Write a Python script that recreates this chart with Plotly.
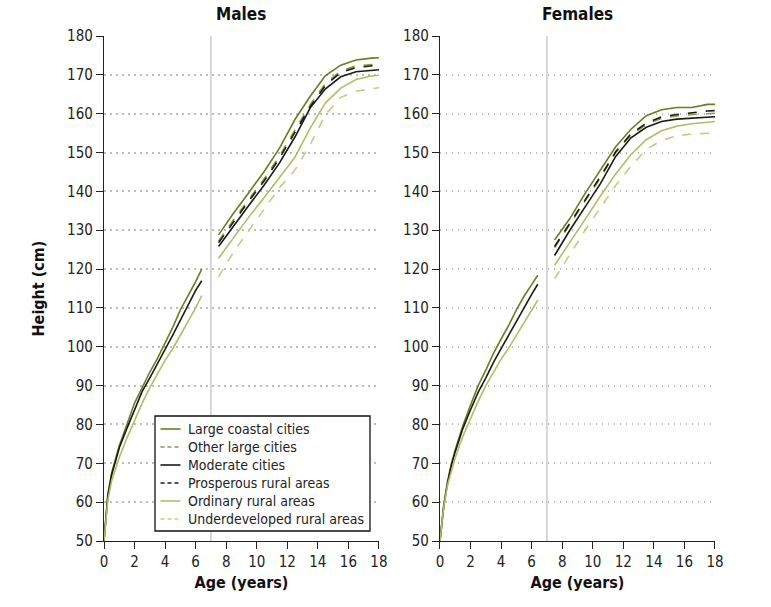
import plotly.graph_objects as go

# ---------------- data ----------------
age_young = [0, 0.25, 0.5, 0.75, 1, 1.5, 2, 2.5, 3, 3.5, 4, 4.5, 5, 5.5, 6, 6.4]
age_old = [7.5, 8.5, 9.5, 10.5, 11.5, 12.5, 13.5, 14.5, 15.5, 16.5, 17.5, 18]

series_names = ["Large coastal cities", "Other large cities", "Moderate cities",
                "Prosperous rural areas", "Ordinary rural areas", "Underdeveloped rural areas"]

# Males, ages 0-6.4 (only three groups measured)
m_young_lc = [50, 62, 67.5, 71, 74.5, 80, 85.5, 89.5, 93.5, 97, 101, 105, 109.5, 113, 116.8, 120]
m_young_mc = [50, 61.5, 67, 70.5, 74, 79, 84, 88.5, 92, 95.5, 99.3, 103, 106.8, 110.5, 114.5, 117]
m_young_or = [50, 60.5, 65.5, 68.5, 71.5, 76.5, 81, 85.5, 89.5, 93, 96.5, 99.5, 103, 106.5, 110, 113.2]

# Males, ages 7.5-18
m_old_lc = [128.8, 134.5, 139.8, 145.2, 151.2, 158.5, 164.5, 169.8, 172.5, 173.8, 174.3, 174.4]
m_old_ol = [127.2, 132.8, 138.0, 143.3, 149.2, 155.8, 162.3, 167.8, 171.0, 172.3, 172.7, 172.8]
m_old_pr = [126.8, 132.3, 137.6, 142.8, 148.6, 155.2, 161.8, 167.3, 170.6, 171.9, 172.4, 172.5]
m_old_mc = [125.8, 131.3, 136.5, 141.7, 147.4, 154.0, 161.5, 166.4, 169.5, 170.8, 171.2, 171.3]
m_old_or = [122.8, 128.3, 133.5, 138.5, 143.8, 148.8, 156.3, 162.8, 166.6, 168.8, 169.7, 169.9]
m_old_ud = [118.0, 124.5, 130.0, 135.5, 141.0, 145.5, 152.0, 159.8, 164.2, 165.8, 166.5, 166.7]

# Females, ages 0-6.4
f_young_lc = [50, 59.5, 65.5, 70, 73.5, 79.7, 85, 90, 94, 98.3, 102, 105.5, 109.5, 113, 116, 118.4]
f_young_mc = [50, 59, 65, 69.5, 73, 79, 83.8, 88.3, 92, 96, 99.5, 103, 106.5, 110.3, 113.5, 116.1]
f_young_or = [50, 59, 64.5, 68, 71.5, 77, 81.5, 86, 90, 93.5, 96.8, 99.7, 103, 106.3, 109.7, 112]

# Females, ages 7.5-18
f_old_lc = [127.5, 133.0, 139.5, 145.5, 151.5, 156.0, 159.5, 161.0, 161.6, 161.6, 162.4, 162.4]
f_old_ol = [125.5, 131.5, 137.5, 143.5, 150.0, 154.5, 157.2, 158.8, 159.4, 159.8, 160.0, 160.1]
f_old_pr = [125.8, 131.8, 137.8, 143.8, 150.2, 154.8, 157.5, 159.2, 159.8, 160.3, 160.7, 160.8]
f_old_mc = [123.5, 130.0, 136.0, 142.0, 149.0, 153.8, 156.5, 158.0, 158.6, 158.9, 159.2, 159.2]
f_old_or = [121.0, 126.8, 132.8, 138.8, 144.5, 149.5, 153.3, 155.6, 156.8, 157.4, 157.9, 158.0]
f_old_ud = [117.5, 123.8, 130.0, 135.8, 141.5, 146.5, 150.8, 153.1, 154.3, 154.8, 155.0, 155.0]

y_ticks = list(range(50, 181, 10))
x_ticks = list(range(0, 19, 2))

# ---------------- styles ----------------
styles = {
    "Large coastal cities": dict(color="#6f7a22", dash="solid"),
    "Other large cities": dict(color="#8e9a3c", dash="dash"),
    "Moderate cities": dict(color="#1a1a1a", dash="solid"),
    "Prosperous rural areas": dict(color="#1a1a1a", dash="dash"),
    "Ordinary rural areas": dict(color="#b4bc68", dash="solid"),
    "Underdeveloped rural areas": dict(color="#c6cb82", dash="dash"),
}

FONT = "DejaVu Sans Condensed, Liberation Sans Narrow, sans-serif"

fig = go.Figure()

def add(x, y, name, xa, ya):
    st = styles[name]
    fig.add_trace(go.Scatter(
        x=x, y=y, mode="lines", name=name, showlegend=False,
        line=dict(color=st["color"], dash=st["dash"], width=1.6),
        xaxis=xa, yaxis=ya, hoverinfo="skip"))

male_old = [m_old_lc, m_old_ol, m_old_mc, m_old_pr, m_old_or, m_old_ud]
female_old = [f_old_lc, f_old_ol, f_old_mc, f_old_pr, f_old_or, f_old_ud]

for name, ys in zip(series_names, male_old):
    add(age_old, ys, name, "x", "y")
for name, ys in zip(series_names, female_old):
    add(age_old, ys, name, "x2", "y2")

for name, ys in [("Large coastal cities", m_young_lc), ("Moderate cities", m_young_mc),
                 ("Ordinary rural areas", m_young_or)]:
    add(age_young, ys, name, "x", "y")
for name, ys in [("Large coastal cities", f_young_lc), ("Moderate cities", f_young_mc),
                 ("Ordinary rural areas", f_young_or)]:
    add(age_young, ys, name, "x2", "y2")

xcommon = dict(range=[0, 18], tickvals=x_ticks, showgrid=False, showline=True,
               linecolor="#222", linewidth=1.3, ticks="outside", ticklen=7,
               tickcolor="#222", tickwidth=1.3, zeroline=False,
               tickfont=dict(family=FONT, size=15, color="#222"),
               title=dict(text="<b>Age (years)</b>", font=dict(family=FONT, size=16, color="#111"),
                          standoff=6))
ycommon = dict(range=[50, 180], tickvals=y_ticks, showgrid=True, gridcolor="#bdbdbd",
               griddash="1.5px,4.5px", gridwidth=1.5, showline=True, linecolor="#222",
               linewidth=1.3, ticks="outside", ticklen=7, tickcolor="#222", tickwidth=1.3,
               zeroline=False, tickfont=dict(family=FONT, size=15, color="#222"))

# ---------------- manual legend (paper coords) ----------------
PX0, PW, PY0, PH = 104, 611, 541, 505  # plot area in pixels
def px(xp):
    return (xp - PX0) / PW
def py(yp):
    return (PY0 - yp) / PH

shapes = [
    dict(type="line", xref="x", yref="y domain", x0=7, x1=7, y0=0, y1=1,
         line=dict(color="#cccccc", width=1.5), layer="below"),
    dict(type="line", xref="x2", yref="y2 domain", x0=7, x1=7, y0=0, y1=1,
         line=dict(color="#cccccc", width=1.5), layer="below"),
    dict(type="rect", xref="paper", yref="paper", x0=px(155), x1=px(370),
         y0=py(531), y1=py(416), fillcolor="white",
         line=dict(color="#111", width=1.3), layer="above"),
]
annotations = [
    dict(text="<b>Males</b>", xref="x domain", yref="paper", x=0.5, y=1.0,
         yshift=10, xanchor="center", yanchor="bottom", showarrow=False,
         font=dict(family=FONT, size=17, color="#111")),
    dict(text="<b>Females</b>", xref="x2 domain", yref="paper", x=0.5, y=1.0,
         yshift=10, xanchor="center", yanchor="bottom", showarrow=False,
         font=dict(family=FONT, size=17, color="#111")),
]
for i, name in enumerate(series_names):
    yrow = 429 + 18 * i
    st = styles[name]
    shapes.append(dict(type="line", xref="paper", yref="paper",
                       x0=px(160.5), x1=px(180.5), y0=py(yrow), y1=py(yrow),
                       line=dict(color=st["color"], width=1.6,
                                 dash="4px,3px" if st["dash"] == "dash" else "solid"),
                       layer="above"))
    annotations.append(dict(text=name, xref="paper", yref="paper", x=px(186), y=py(yrow),
                            xanchor="left", yanchor="middle", showarrow=False,
                            font=dict(family=FONT, size=14, color="#222")))

fig.update_layout(
    width=771, height=607,
    margin=dict(l=104, r=56, t=36, b=66),
    plot_bgcolor="white", paper_bgcolor="white",
    xaxis=dict(domain=[0, 0.45], anchor="y", **xcommon),
    xaxis2=dict(domain=[0.5499, 1], anchor="y2", **xcommon),
    yaxis=dict(anchor="x", title=dict(text="<b>Height (cm)</b>",
               font=dict(family=FONT, size=16, color="#111"), standoff=18), **ycommon),
    yaxis2=dict(anchor="x2", **ycommon),
    showlegend=False,
    hovermode=False,
    shapes=shapes,
    annotations=annotations,
)

fig.write_html("out.html", config={"displayModeBar": False},
               post_script="document.body.style.margin='0';")
